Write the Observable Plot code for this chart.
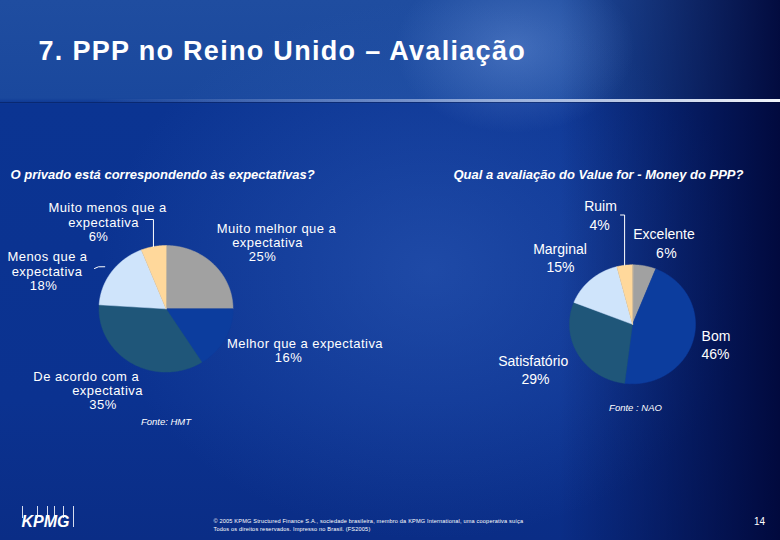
<!DOCTYPE html>
<html>
<head>
<meta charset="utf-8">
<script src="https://cdn.jsdelivr.net/npm/d3@7"></script>
<script src="https://cdn.jsdelivr.net/npm/@observablehq/plot@0.6"></script>
<style>
html,body{margin:0;padding:0;background:#0a2f8a;}
#slide{position:relative;width:780px;height:540px;overflow:hidden;
 background:
  radial-gradient(ellipse 120px 85px at 515px 48px, rgba(110,150,220,0.45), rgba(110,150,220,0)),
  linear-gradient(to right, rgba(0,4,50,0) 0px, rgba(0,4,50,0) 560px, rgba(0,6,55,0.92) 780px),
  radial-gradient(ellipse 330px 270px at 430px 270px, rgba(70,120,210,0.33), rgba(70,120,210,0)),
  linear-gradient(to bottom, #1f4da0 0px, #1a489d 98px, #0b3492 104px, #0b3290 400px, #0a2d86 540px);
}
#rule{position:absolute;left:0;top:99px;width:780px;height:3px;
 background:linear-gradient(to right, rgba(200,215,240,0) 12%, rgba(170,190,230,0.5) 45%, rgba(220,230,248,0.9) 85%, #f2f5fb 100%);}
#rule2{position:absolute;left:0;top:102px;width:780px;height:1px;background:rgba(0,10,50,0.35);}
#logo{position:absolute;left:21px;top:506px;width:55px;height:22px;}
#logo span{position:absolute;top:0;width:1px;height:12px;background:rgba(235,240,250,0.9);}
#slide svg{position:absolute;left:0;top:0;}
</style>
</head>
<body>
<div id="slide">
 <div id="rule"></div><div id="rule2"></div>
 <div id="logo"><span style="left:1px"></span><span style="left:16px"></span><span style="left:26px"></span><span style="left:33px"></span><span style="left:42px"></span><span style="left:52px;height:21px"></span></div>
</div>
<script>
// ---------- data ----------
const titleText = "7. PPP no Reino Unido – Avaliação";
const leftQuestion = "O privado está correspondendo às expectativas?";
const rightQuestion = "Qual a avaliação do Value for - Money do PPP?";
const leftCategories = ["Muito melhor que a\nexpectativa", "Melhor que a expectativa", "De acordo com a\nexpectativa", "Menos que a\nexpectativa", "Muito menos que a\nexpectativa"];
const leftValues = [25, 16, 35, 18, 6];
const leftSource = "Fonte: HMT";
const rightCategories = ["Excelente", "Bom", "Satisfatório", "Marginal", "Ruim"];
const rightValues = [6, 46, 29, 15, 4];
const rightSource = "Fonte : NAO";
const footerLines = ["© 2005 KPMG Structured Finance S.A., sociedade brasileira, membro da KPMG International, uma cooperativa suíça", "Todos os direitos reservados. Impresso no Brasil. (FS2005)"];
const pageNumber = "14";
const logoText = "KPMG";

// ---------- styles / layout ----------
const sliceColors = ["#a1a1a1", "#0c3d9e", "#1f5679", "#cfe4fb", "#ffd89b"];
const W = 780, H = 540;
const pies = [
  {cats: leftCategories, vals: leftValues, source: leftSource, cx: 165.5, cy: 308.3, rx: 67, ry: 63.3, srcY: 421.7,
   labels: [
     {x: [276, 267, 262], y: 228, step: 14.3},
     {x: [304.5, 288], y: 343.3, step: 14},
     {x: [85.7, 107, 102.5], y: 376, step: 14},
     {x: [47, 46.5, 43], y: 256.7, step: 14.2},
     {x: [107, 103, 98], y: 207.7, step: 14.2}
   ],
   leaders: [
     {slice: 4, start: [[145, 219]], elbow: "v", r: 1},
     {slice: 3, start: [[94, 268], [98, 266.3]], elbow: null, r: 1.13}
   ]},
  {cats: rightCategories, vals: rightValues, source: rightSource, cx: 632, cy: 323.8, rx: 63, ry: 59.5, srcY: 407.3, srcDx: 3,
   labels: [
     {x: [663.5, 666], y: 234, step: 18.7},
     {x: [715.5, 715], y: 336, step: 18},
     {x: [532.7, 535], y: 360.7, step: 18.6},
     {x: [559.5, 560], y: 249.3, step: 18},
     {x: [600, 599], y: 206, step: 19}
   ],
   leaders: [
     {slice: 4, start: [[620, 214.5]], elbow: "v", r: 1}
   ]}
];

// ---------- build geometry from data ----------
const slicePts = [], labelLines = [], leaderPts = [];
pies.forEach((p, pi) => {
  const arcs = d3.pie().sort(null).value(d => d)(p.vals);
  const pt = (a, r = 1) => ({x: p.cx + p.rx * r * Math.sin(a), y: p.cy - p.ry * r * Math.cos(a)});
  arcs.forEach((a, i) => {
    const key = pi + "-" + i;
    slicePts.push({key, color: i, x: p.cx, y: p.cy});
    const n = Math.max(2, Math.ceil((a.endAngle - a.startAngle) / (Math.PI / 360)));
    for (let k = 0; k <= n; k++) {
      const t = a.startAngle + (a.endAngle - a.startAngle) * k / n;
      slicePts.push({key, color: i, ...pt(t)});
    }
    const lines = p.cats[i].split("\n").concat([p.vals[i] + "%"]);
    const L = p.labels[i];
    lines.forEach((t, j) => labelLines.push({pie: pi, text: t, x: L.x[j], y: L.y + j * L.step}));
  });
  p.leaders.forEach((ld, li) => {
    const a = arcs[ld.slice];
    const e = pt((a.startAngle + a.endAngle) / 2, ld.r);
    const id = pi + "-L" + li;
    ld.start.forEach(s => leaderPts.push({id, x: s[0], y: s[1]}));
    if (ld.elbow === "v") leaderPts.push({id, x: e.x, y: ld.start[ld.start.length - 1][1]});
    leaderPts.push({id, x: e.x, y: e.y});
  });
});

const sans = "'Liberation Sans', Arial, sans-serif";
const chart = Plot.plot({
  width: W, height: H, margin: 0,
  style: {background: "transparent", fontFamily: sans, overflow: "visible"},
  x: {domain: [0, W], range: [0, W], axis: null},
  y: {domain: [0, H], range: [0, H], axis: null},
  color: {type: "ordinal", domain: d3.range(sliceColors.length), range: sliceColors},
  marks: [
    Plot.line(slicePts, {x: "x", y: "y", z: "key", fill: "color", stroke: "color", strokeWidth: 0.5, curve: "linear-closed"}),
    Plot.line(leaderPts, {x: "x", y: "y", z: "id", stroke: "white", strokeWidth: 1, curve: "linear"}),
    Plot.text(labelLines.filter(d => d.pie === 0), {x: "x", y: "y", text: "text", fill: "white", fontSize: 13, textAnchor: "middle", lineAnchor: "middle"}),
    Plot.text(labelLines.filter(d => d.pie === 1), {x: "x", y: "y", text: "text", fill: "white", fontSize: 14, textAnchor: "middle", lineAnchor: "middle"}),
    Plot.text(pies, {x: d => d.cx + (d.srcDx || 0), y: "srcY", text: "source", fill: "white", fontSize: 9.5, fontStyle: "italic", textAnchor: "middle", lineAnchor: "middle"}),
    Plot.text([titleText], {x: [38], y: [59.5], text: d => d, fill: "white", fontSize: 27, fontWeight: "bold", textAnchor: "start", lineAnchor: "bottom"}),
    Plot.text([leftQuestion, rightQuestion], {x: [10, 453], y: [174, 174], text: d => d, fill: "white", fontSize: 13, fontWeight: "bold", fontStyle: "italic", textAnchor: "start", lineAnchor: "middle"}),
    Plot.text(footerLines, {x: [213, 213], y: [521, 529], text: d => d, fill: "white", fontSize: 5.6, textAnchor: "start", lineAnchor: "middle"}),
    Plot.text([pageNumber], {x: [759], y: [521.5], text: d => d, fill: "white", fontSize: 10, textAnchor: "middle", lineAnchor: "middle"}),
    Plot.text([logoText], {x: [21], y: [521], text: d => d, fill: "white", fontSize: 16, fontWeight: "bold", fontStyle: "italic", textAnchor: "start", lineAnchor: "middle"})
  ]
});
// letter spacing tweaks (typographic style only)
const leftLabelTexts = new Set(labelLines.filter(d => d.pie === 0).map(d => d.text));
d3.select(chart).selectAll("text").each(function () {
  const t = this.textContent;
  if (t === titleText) this.style.letterSpacing = "1.3px";
  else if (footerLines.includes(t)) this.style.letterSpacing = "0.17px";
  else if (leftLabelTexts.has(t)) this.style.letterSpacing = "0.45px";
});
document.getElementById("slide").appendChild(chart);
</script>
</body>
</html>
